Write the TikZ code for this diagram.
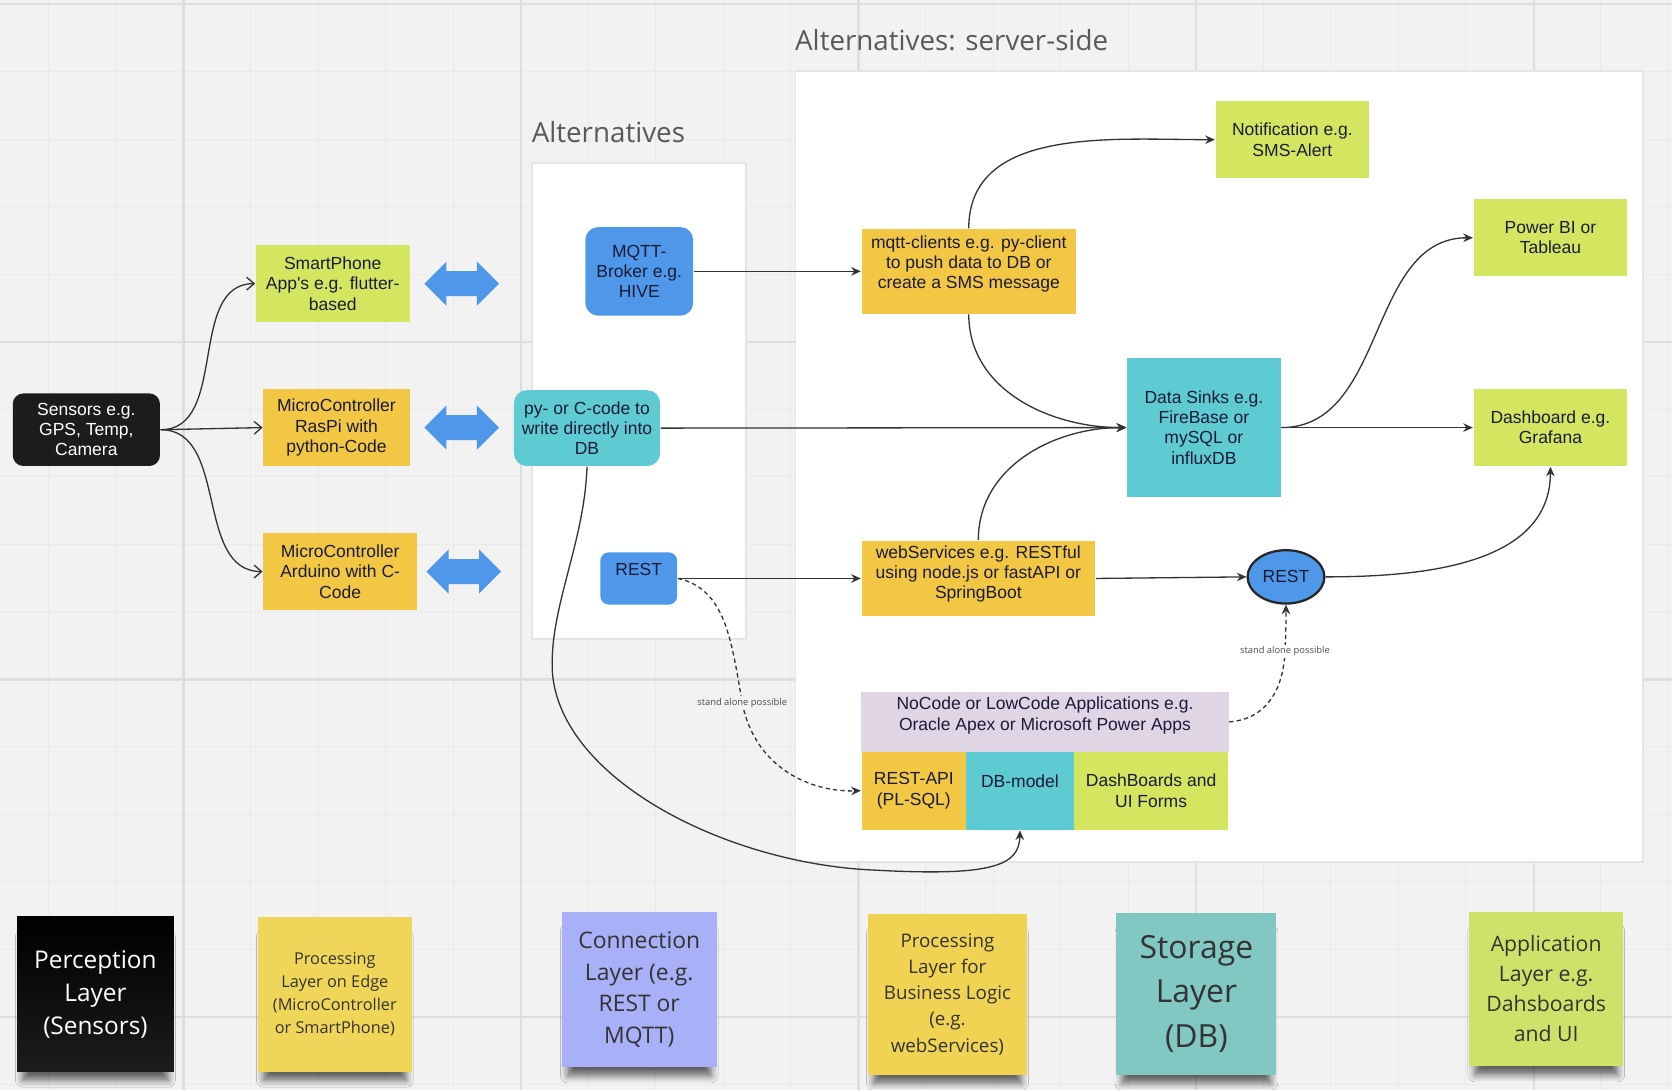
\documentclass[tikz,border=0pt]{standalone}
\usepackage{fontspec}
\setmainfont{Liberation Sans}
\newfontfamily\notefont{Open Sans}
\usepackage{tikz}
\usetikzlibrary{arrows.meta, shapes.arrows, shapes.geometric, shadows, shadows.blur, calc}

\definecolor{board}{HTML}{F2F2F2}
\definecolor{gridminor}{HTML}{EAEAEA}
\definecolor{gridmajor}{HTML}{DEDEDE}
\definecolor{lime}{HTML}{D4E65F}
\definecolor{amber}{HTML}{F2C744}
\definecolor{aqua}{HTML}{5ECAD2}
\definecolor{skyblue}{HTML}{4F97E8}
\definecolor{lilac}{HTML}{DFD5E5}
\definecolor{inkblue}{HTML}{1B1B38}
\definecolor{nearblack}{HTML}{1C1C1C}
\definecolor{notelemon}{HTML}{F0D658}
\definecolor{noteviolet}{HTML}{A8B0F7}
\definecolor{notegold}{HTML}{F0D352}
\definecolor{notesea}{HTML}{82C8C2}
\definecolor{notelime}{HTML}{D0E16A}

\newcommand{\boxfont}{\fontsize{4.67}{5.4}\selectfont}

\begin{document}
\begin{tikzpicture}[x=0.01cm, y=-0.01cm,
    cardtext/.style={align=center, font=\boxfont, text=inkblue, inner sep=0pt},
    card/.style={rectangle, cardtext},
    dblarrow/.style={double arrow, fill=skyblue, minimum height=0.7cm, minimum width=0.4cm, double arrow head extend=0.09cm, inner sep=0.11cm},
    sticky/.style={rectangle, inner sep=0pt, align=center, text=black!80, blur shadow={shadow xshift=0cm, shadow yshift=-0.14cm, shadow scale=0.93, shadow blur radius=0.07cm, shadow blur steps=6, shadow opacity=60}},
    heading/.style={font=\notefont\fontsize{7.4}{9}\selectfont, text=black!65, inner sep=0pt, anchor=west},
    aside/.style={font=\notefont\fontsize{2.5}{3}\selectfont, text=black!70, inner sep=0.5pt},
    feed/.style={-{Straight Barb[length=0.07cm, width=0.12cm]}, line width=0.35pt, draw=black!80},
    flow/.style={-{Stealth[length=0.09cm, width=0.08cm]}, line width=0.35pt, draw=black!80},
    standalone/.style={flow, dash pattern=on 0.04cm off 0.03cm}]

    \useasboundingbox (0,0) rectangle (1568,1022);
    \fill[board] (0,0) rectangle (1568,1022);
    \foreach \i in {0,...,24} {\draw[gridminor, line width=0.3pt] ({45.4+63.3*\i},0) -- ({45.4+63.3*\i},1022);}
    \foreach \j in {0,...,16} {\draw[gridminor, line width=0.3pt] (0,{4+63.3*\j}) -- (1568,{4+63.3*\j});}
    \foreach \gx in {172,488.6,805.2,1121.8,1438.4} {\draw[gridmajor, line width=0.6pt] (\gx,0) -- (\gx,1022);}
    \foreach \gy in {4,320.6,637.2,953.8} {\draw[gridmajor, line width=0.6pt] (0,\gy) -- (1568,\gy);}

    \filldraw[fill=white, draw=black!10, line width=0.5pt] (499,153) rectangle (700,599);
    \filldraw[fill=white, draw=black!10, line width=0.5pt] (746,67) rectangle (1541,808);
    \node[heading] (alttitle) at (498,124) {Alternatives};
    \node[heading] (servertitle) at (745,38) {Alternatives: server-side};

    \node[card, fill=nearblack, text=white, rounded corners=0.1cm, minimum width=1.38cm, minimum height=0.68cm] (sensors) at (81,403) {Sensors e.g.\\GPS, Temp,\\Camera};
    \node[card, fill=lime, minimum width=1.44cm, minimum height=0.72cm] (phone) at (312,266) {SmartPhone\\App\textquotesingle s e.g. flutter-\\based};
    \node[card, fill=amber, minimum width=1.37cm, minimum height=0.72cm] (raspi) at (315.5,401) {MicroController\\RasPi with\\python-Code};
    \node[card, fill=amber, minimum width=1.44cm, minimum height=0.72cm] (arduino) at (319,536) {MicroController\\Arduino with C-\\Code};

    \node[dblarrow] (linkphone) at (433,266) {};
    \node[dblarrow] (linkraspi) at (433,401) {};
    \node[dblarrow] (linkarduino) at (435,536) {};

    \node[card, fill=skyblue, rounded corners=0.12cm, minimum width=1.01cm, minimum height=0.83cm] (broker) at (599.5,254.5) {MQTT-\\Broker e.g.\\HIVE};
    \node[card, fill=aqua, rounded corners=0.12cm, minimum width=1.37cm, minimum height=0.71cm] (pycode) at (550.5,401.5) {py- or C-code to\\write directly into\\DB};
    \node[card, fill=skyblue, rounded corners=0.08cm, minimum width=0.72cm, minimum height=0.49cm, label={[cardtext, yshift=0.08cm]center:REST}] (restL) at (599,542.5) {};

    \node[card, fill=lime, minimum width=1.44cm, minimum height=0.72cm] (notify) at (1212,131) {Notification e.g.\\SMS-Alert};
    \node[card, fill=amber, minimum width=2.01cm, minimum height=0.79cm, label={[cardtext, yshift=0.07cm]center:{mqtt-clients e.g. py-client\\to push data to DB or\\create a SMS message}}] (mqttclient) at (908.5,254.5) {};
    \node[card, fill=lime, minimum width=1.44cm, minimum height=0.72cm] (powerbi) at (1454,223) {Power BI or\\Tableau};
    \node[card, fill=aqua, minimum width=1.44cm, minimum height=1.30cm] (sinks) at (1129,401) {Data Sinks e.g.\\FireBase or\\mySQL or\\influxDB};
    \node[card, fill=lime, minimum width=1.44cm, minimum height=0.72cm] (dashboard) at (1454,401) {Dashboard e.g.\\Grafana};
    \node[card, fill=amber, minimum width=2.19cm, minimum height=0.71cm, label={[cardtext, yshift=0.04cm]center:{webServices e.g. RESTful\\using node.js or fastAPI or\\SpringBoot}}] (websvc) at (917.5,542.5) {};
    \node[ellipse, fill=skyblue, draw=black!85, line width=0.6pt, minimum width=0.72cm, minimum height=0.5cm, cardtext] (restC) at (1206,541) {REST};

    \node[card, fill=lilac, minimum width=3.44cm, minimum height=0.56cm, label={[cardtext, yshift=0.06cm]center:{NoCode or LowCode Applications e.g.\\Oracle Apex or Microsoft Power Apps}}] (nocode) at (980,677) {};
    \node[card, fill=amber, minimum width=0.98cm, minimum height=0.73cm] (restapi) at (857,741.5) {REST-API\\(PL-SQL)};
    \node[card, fill=aqua, minimum width=1.01cm, minimum height=0.73cm, label={[cardtext, yshift=0.085cm]center:DB-model}] (dbmodel) at (956.5,741.5) {};
    \node[card, fill=lime, minimum width=1.45cm, minimum height=0.73cm] (dashforms) at (1079.5,741.5) {DashBoards and\\UI Forms};

    \draw[feed] (sensors.east) to[out=0, in=180] (phone.west);
    \draw[feed] (sensors.east) -- (raspi.west);
    \draw[feed] (sensors.east) to[out=0, in=180] (arduino.west);

    \draw[flow] (broker.east) -- (mqttclient.west);
    \draw[flow] (mqttclient.north) to[out=90, in=180] (notify.west);
    \draw[flow] (mqttclient.south) to[out=-90, in=180] (sinks.west);
    \draw[flow] (pycode.east) -- (sinks.west);
    \draw[flow] (websvc.north) to[out=90, in=180] (sinks.west);
    \draw[flow] (sinks.east) to[out=0, in=180] (powerbi.west);
    \draw[flow] (sinks.east) -- (dashboard.west);
    \draw[flow] (restL.east) -- (websvc.west);
    \draw[flow] (websvc.east) -- (restC.west);
    \draw[flow] (restC.east) to[out=0, in=-90] (dashboard.south);
    \draw[flow] (pycode.south) .. controls (548,510) and (515,570) .. (518,630) .. controls (525,730) and (680,810) .. (820,816) .. controls (930,822) and (956,812) .. (dbmodel.south);

    \draw[standalone] (restL.east) .. controls (680,552) and (686,600) .. (696,659) node[aside, fill=board] {stand alone possible} .. controls (708,720) and (760,743) .. (restapi.west);
    \draw[standalone] (nocode.east) .. controls (1192,674) and (1204,640) .. (1205,611) node[aside, fill=white] {stand alone possible} .. controls (1206,595) and (1206,580) .. (restC.south);

    \node[sticky, top color=black, bottom color=nearblack, text=white, minimum width=1.47cm, minimum height=1.45cm, font=\notefont\fontsize{6.5}{8.8}\selectfont] (perception) at (89.5,932.5) {Perception\\Layer\\(Sensors)};
    \node[sticky, fill=notelemon, minimum width=1.44cm, minimum height=1.45cm, font=\notefont\fontsize{4.35}{6.1}\selectfont] (edge) at (314,932.5) {Processing\\Layer on Edge\\(MicroController\\or SmartPhone)};
    \node[sticky, fill=noteviolet, minimum width=1.45cm, minimum height=1.46cm, font=\notefont\fontsize{6.1}{8.5}\selectfont] (connection) at (599.5,928) {Connection\\Layer (e.g.\\REST or\\MQTT)};
    \node[sticky, fill=notegold, minimum width=1.49cm, minimum height=1.51cm, font=\notefont\fontsize{5.0}{7.0}\selectfont] (business) at (888.5,932.5) {Processing\\Layer for\\Business Logic\\(e.g.\\webServices)};
    \node[sticky, fill=notesea, minimum width=1.50cm, minimum height=1.52cm, font=\notefont\fontsize{8.5}{11.9}\selectfont] (storage) at (1122,932) {Storage\\Layer\\(DB)};
    \node[sticky, fill=notelime, minimum width=1.44cm, minimum height=1.45cm, font=\notefont\fontsize{5.66}{8.0}\selectfont] (application) at (1450,927.5) {Application\\Layer e.g.\\Dahsboards\\and UI};
\end{tikzpicture}
\end{document}
